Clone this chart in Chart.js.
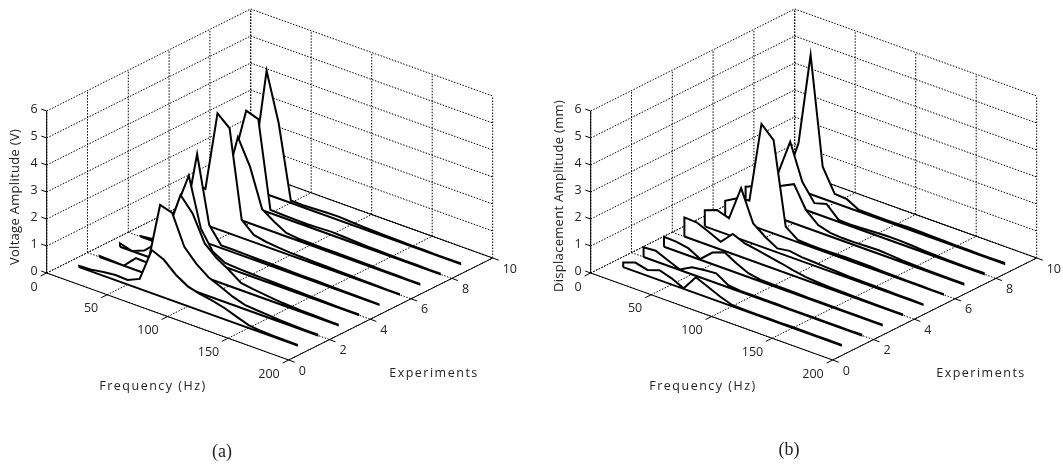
<!DOCTYPE html>
<html>
<head>
<meta charset="utf-8">
<style>
  html, body { margin: 0; padding: 0; background: #fff; }
  #wrap { position: relative; width: 1063px; height: 468px; overflow: hidden; }
  canvas { position: absolute; top: 0; }
</style>
<script src="https://cdn.jsdelivr.net/npm/chart.js@4/dist/chart.umd.min.js"></script>
</head>
<body>
<div id="wrap">
  <canvas id="chartA" width="531" height="468" style="left:0"></canvas>
  <canvas id="chartB" width="532" height="468" style="left:531px"></canvas>
</div>
<script>
// axis ticks
const freqTicks = [0, 50, 100, 150, 200];
const expTicks = [0, 2, 4, 6, 8, 10];
const ampTicks = [0, 1, 2, 3, 4, 5, 6];

// sampled frequencies (Hz), one spectrum per experiment
const frequencies = [10, 20, 30, 40, 50, 60, 70, 80, 90, 100, 110, 120, 130, 140, 150, 160, 170, 180, 190];
const experiments = [1, 2, 3, 4, 5, 6, 7, 8, 9];

// (a) voltage amplitude (V)
const voltage1 = [.05, .07, .14, .19, .17, .37, 1.6, 1.4, 1.0, .73, .61, .53, .42, .26, .11, .06, .04, .03, .03];
const voltage2 = [.04, .02, 0, .44, .42, 2.73, 2.6, 1.5, 1.03, .7, .51, .3, .16, .12, .09, .06, .04, .03, .03];
const voltage3 = [.13, 0, .18, .6, 1.3, 2.72, 2.2, 1.25, .86, .59, .27, .2, .15, .1, .07, .05, .04, .03, .02];
const voltage4 = [.02, .07, .5, 1.6, 2.9, 1.1, .4, .15, .12, .1, .09, .08, .07, .06, .05, .04, .03, .02, .02];
const voltage5 = [.1, .2, .55, 3.16, .7, .1, .1, .09, .08, .08, .07, .06, .05, .05, .04, .03, .03, .02, .02];
const voltage6 = [.2, 1.4, 1.33, 4.29, 3.9, .67, .27, .18, .13, .1, .09, .08, .07, .06, .05, .04, .03, .02, .02];
const voltage7 = [.2, .6, 1.2, 3.03, 2.1, .69, .38, .13, .08, .07, .06, .06, .05, .05, .04, .03, .03, .02, .02];
const voltage8 = [.3, 1.6, 3.47, 3.32, .12, .1, .09, .08, .1, .12, .1, .08, .06, .05, .04, .03, .03, .02, .02];
const voltage9 = [.3, 1.14, 4.57, 2.79, .09, .08, .1, .12, .13, .1, .08, .06, .05, .04, .03, .03, .02, .02, .02];

// (b) displacement amplitude (mm)
const disp1 = [.17, .33, .22, .37, .23, .02, .59, .4, .2, .05, .04, .03, .03, .03, .04, .04, .03, .03, .03];
const disp2 = [.36, .39, .2, .02, .26, .32, .36, .08, .03, .03, .03, .03, .02, .02, .02, .02, .02, .02, .03];
const disp3 = [.37, .35, .27, .03, .43, .6, .35, .14, .06, .05, .05, .04, .03, .03, .03, .02, .02, .02, .02];
const disp4 = [.71, .69, .5, .29, .74, .55, .47, .38, .3, .2, .12, .08, .06, .05, .04, .03, .03, .02, .02];
const disp5 = [.6, .77, .62, 1.9, .75, .41, .15, .22, .15, .13, .1, .08, .06, .05, .05, .04, .03, .03, .02];
const disp6 = [.57, .82, .9, 3.9, 3.46, .42, .09, .06, .06, .07, .08, .08, .07, .05, .04, .03, .03, .02, .02];
const disp7 = [.71, .9, 1.0, 1.23, 1.45, .65, .26, .13, .1, .1, .12, .13, .1, .07, .05, .04, .03, .03, .03];
const disp8 = [.3, 1.0, 2.32, 1.0, .37, .5, .07, .06, .08, .1, .12, .12, .1, .07, .05, .04, .03, .03, .04];
const disp9 = [.3, 1.73, 5.16, 1.18, .33, .3, .06, .06, .05, .06, .08, .07, .06, .05, .04, .04, .03, .03, .04];

const voltageSeries = [voltage1, voltage2, voltage3, voltage4, voltage5, voltage6, voltage7, voltage8, voltage9];
const dispSeries = [disp1, disp2, disp3, disp4, disp5, disp6, disp7, disp8, disp9];

const FONT = '"Open Sans", sans-serif';

function makePanel(canvasId, series, left, width, originX, yTitle, yTitleX, yTitleY, freqX, expX, caption, captionX, captionY) {
  // oblique view: frequency runs down-right, experiments up-right, amplitude straight up
  function project(f, e, a) {
    return { x: originX + 1.21 * f + 20.4 * e, y: 273 + 0.435 * f - 10.2 * e - 27 * a };
  }
  const gap = { x: NaN, y: NaN };

  const dotted = [];
  const solid = [];
  const seg = (list, p, q) => list.push(p, q, gap);

  ampTicks.forEach(a => {
    seg(dotted, project(0, 0, a), project(0, 10, a));
    seg(dotted, project(0, 10, a), project(200, 10, a));
    seg(solid, project(0, 0, a), project(-4.5, 0, a));
  });
  expTicks.forEach(e => {
    seg(dotted, project(0, e, 0), project(0, e, 6));
    seg(dotted, project(0, e, 0), project(200, e, 0));
    seg(solid, project(200, e, 0), project(205, e, 0));
  });
  freqTicks.forEach(f => {
    seg(dotted, project(f, 10, 0), project(f, 10, 6));
    seg(dotted, project(f, 0, 0), project(f, 10, 0));
    seg(solid, project(f, 0, 0), project(f, -0.3, 0));
  });
  seg(solid, project(0, 0, 0), project(0, 0, 6));
  seg(solid, project(0, 0, 0), project(200, 0, 0));
  seg(solid, project(200, 0, 0), project(200, 10, 0));
  seg(solid, project(0, 10, 0), project(200, 10, 0));

  const datasets = [
    { data: dotted, borderColor: '#000', borderWidth: 1, borderDash: [1.5, 1.5], pointRadius: 0, spanGaps: false, order: 100 },
    { data: solid, borderColor: '#000', borderWidth: 1, pointRadius: 0, spanGaps: false, order: 99 }
  ];

  // one closed white polygon per experiment, the front ones on top
  series.forEach((values, i) => {
    const e = experiments[i];
    const last = frequencies[frequencies.length - 1];
    const pts = [project(frequencies[0], e, 0)];
    values.forEach((a, k) => pts.push(project(frequencies[k], e, a)));
    pts.push(project(last, e, 0), project(frequencies[0], e, 0));
    datasets.push({
      data: pts,
      borderColor: '#000',
      borderWidth: 2,
      borderJoinStyle: 'miter',
      backgroundColor: '#fff',
      fill: 'shape',
      pointRadius: 0,
      tension: 0,
      order: e
    });
  });

  const textPlugin = {
    id: 'axisText',
    afterDraw(chart) {
      const ctx = chart.ctx;
      const px = p => ({ x: chart.scales.x.getPixelForValue(p.x), y: chart.scales.y.getPixelForValue(p.y) });
      ctx.save();
      ctx.fillStyle = '#222';
      ctx.textBaseline = 'middle';
      ctx.font = '12.5px ' + FONT;

      ctx.textAlign = 'right';
      ampTicks.forEach(a => {
        const p = px(project(0, 0, a));
        ctx.fillText(a, p.x - 9, p.y - 2);
      });
      freqTicks.forEach(f => {
        const p = px(project(f, 0, 0));
        ctx.fillText(f, p.x - 9, p.y + 14);
      });
      ctx.textAlign = 'left';
      expTicks.forEach(e => {
        const p = px(project(200, e, 0));
        ctx.fillText(e, p.x + 10, p.y + 11);
      });

      ctx.textAlign = 'center';
      ctx.letterSpacing = '1.5px';
      ctx.fillText('Frequency (Hz)', freqX - left, 386);
      ctx.fillText('Experiments', expX - left, 373);
      ctx.font = '13px ' + FONT;
      ctx.letterSpacing = '0.3px';
      ctx.save();
      ctx.translate(yTitleX - left, yTitleY);
      ctx.rotate(-Math.PI / 2);
      ctx.fillText(yTitle, 0, 0);
      ctx.restore();
      ctx.letterSpacing = '0px';

      ctx.font = '18px "Liberation Serif", serif';
      ctx.fillText(caption, captionX - left, captionY);
      ctx.restore();
    }
  };

  return new Chart(document.getElementById(canvasId), {
    type: 'scatter',
    data: { datasets },
    options: {
      responsive: false,
      animation: false,
      events: [],
      layout: { padding: 0 },
      scales: {
        x: { type: 'linear', display: false, min: left, max: left + width },
        y: { type: 'linear', display: false, min: 0, max: 468, reverse: true }
      },
      elements: { line: { tension: 0, borderCapStyle: 'butt' } },
      datasets: { scatter: { showLine: true } },
      plugins: { legend: { display: false }, tooltip: { enabled: false } }
    },
    plugins: [textPlugin]
  });
}

makePanel('chartA', voltageSeries, 0, 531, 46.7, 'Voltage Amplitude (V)', 15, 197, 153, 434, '(a)', 222, 452);
makePanel('chartB', dispSeries, 531, 532, 590.7, 'Displacement Amplitude (mm)', 559, 196, 703, 981, '(b)', 789, 450);
</script>
</body>
</html>
